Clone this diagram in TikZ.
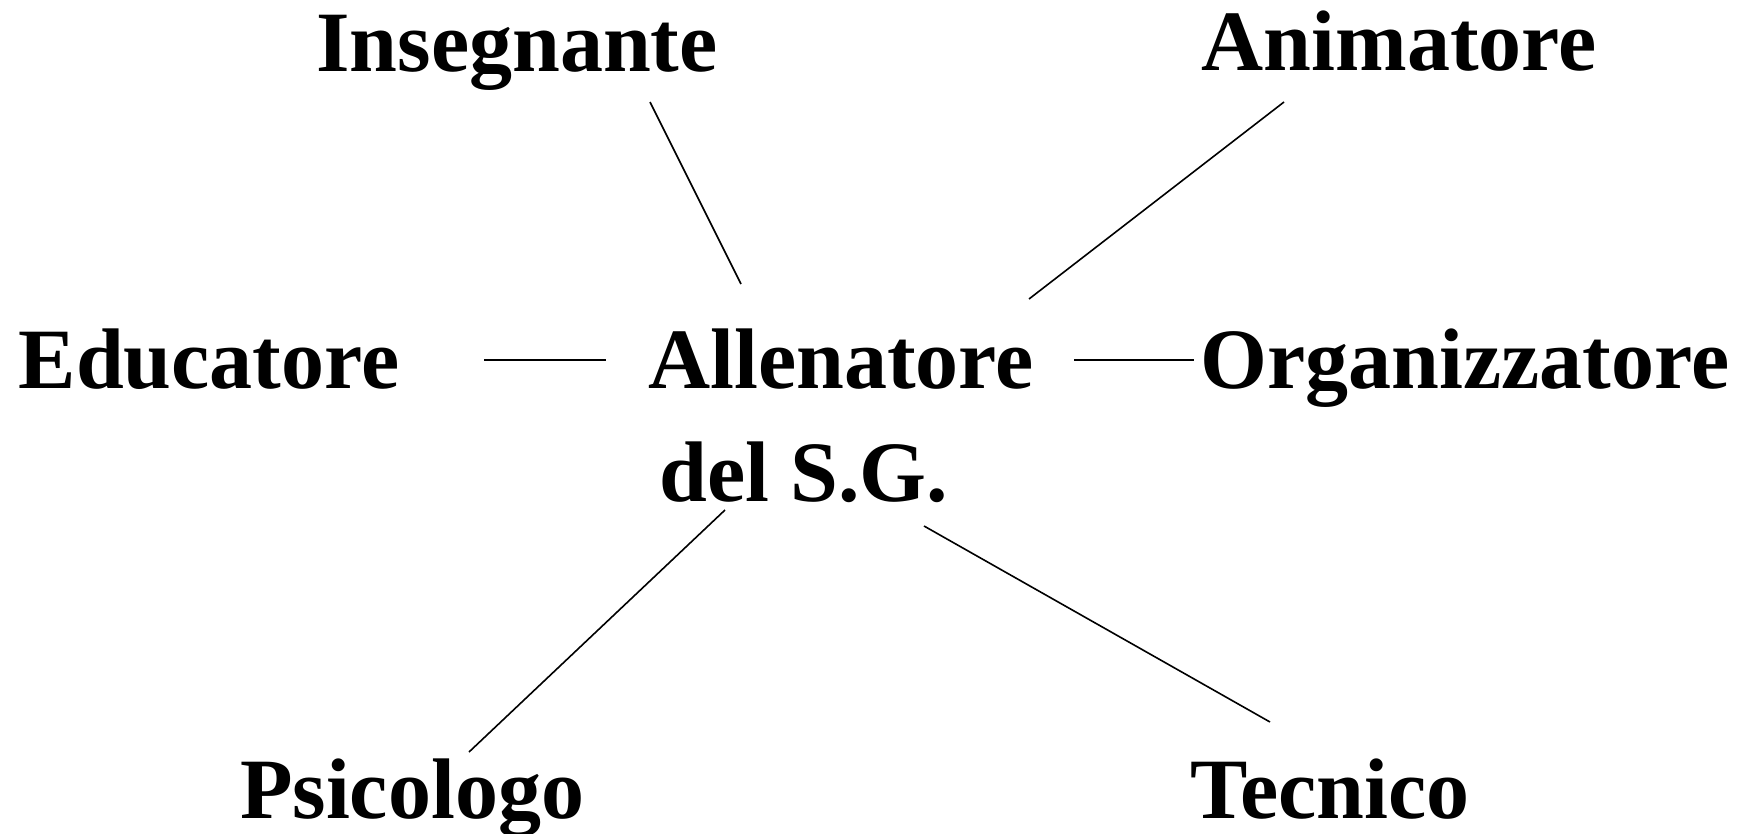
\documentclass[tikz,border=0pt]{standalone}
\usepackage{fontspec}
\setmainfont{Liberation Serif}
\begin{document}
\begin{tikzpicture}[x=1pt,y=-1pt,
  lbl/.style={inner sep=0pt, anchor=base, font=\fontsize{86}{113}\selectfont\bfseries},
  conn/.style={line width=1.6pt, black}]
\useasboundingbox (0,0) rectangle (1744,833);
\node[lbl] (ins) at (517,71) {Insegnante};
\node[lbl] (ani) at (1399,70) {Animatore};
\node[lbl] (edu) at (209,388) {Educatore};
\node[lbl] (org) at (1465,388) {Organizzatore};
\node[lbl, anchor=base west, align=left] (all) at (648,501) {Allenatore\\ \hspace*{11pt}del S.G.};
\node[lbl] (psi) at (412,818) {Psicologo};
\node[lbl] (tec) at (1330,818) {Tecnico};
% connector ends
\coordinate (insA) at (650,102);   \coordinate (insB) at (741,284);
\coordinate (aniA) at (1284,102);  \coordinate (aniB) at (1029,299);
\coordinate (eduA) at (484,360);   \coordinate (eduB) at (606,360);
\coordinate (orgA) at (1074,360);  \coordinate (orgB) at (1194,360);
\coordinate (psiA) at (725,510);   \coordinate (psiB) at (469,752);
\coordinate (tecA) at (924,526);   \coordinate (tecB) at (1270,722);
\draw[conn] (insA) -- (insB);
\draw[conn] (aniA) -- (aniB);
\draw[conn] (eduA) -- (eduB);
\draw[conn] (orgA) -- (orgB);
\draw[conn] (psiA) -- (psiB);
\draw[conn] (tecA) -- (tecB);
\end{tikzpicture}
\end{document}
